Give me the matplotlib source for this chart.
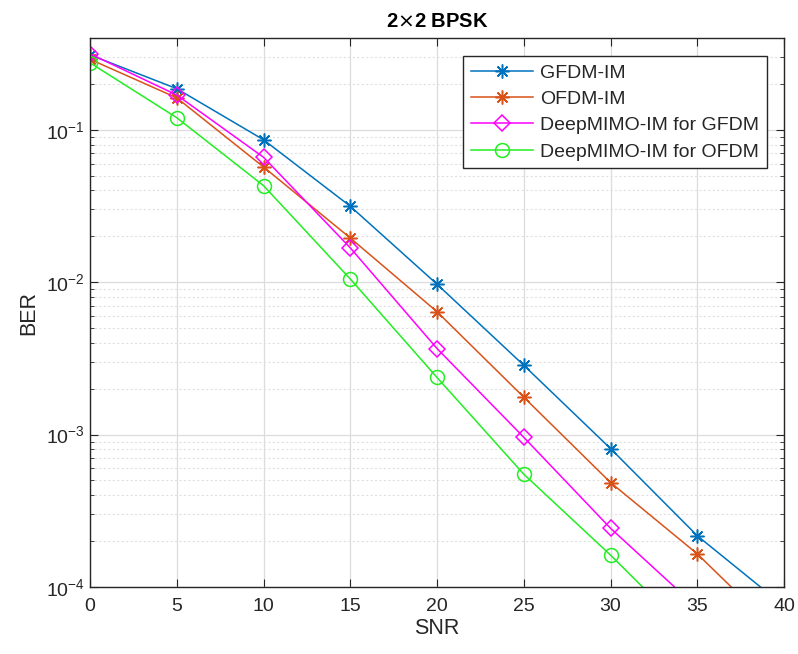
import numpy as np
import matplotlib
matplotlib.use("Agg")
import matplotlib.pyplot as plt
from matplotlib.ticker import LogLocator, NullFormatter, FixedLocator

plt.rcParams['font.family'] = ['Liberation Sans', 'DejaVu Sans']

snr = [0, 5, 10, 15, 20, 25, 30, 35, 40]
gfdm_im = [0.31, 0.186, 0.086, 0.0315, 0.0097, 0.00285, 0.00081, 0.000217, 0.000075]
ofdm_im = [0.29, 0.162, 0.057, 0.0195, 0.0064, 0.00176, 0.000485, 0.000165, 0.000046]
deep_gfdm = [0.315, 0.169, 0.066, 0.0168, 0.00367, 0.00096, 0.000243, 0.000073, np.nan]
deep_ofdm = [0.275, 0.12, 0.043, 0.0105, 0.00237, 0.00055, 0.000162, 0.000044, np.nan]

labels = ['GFDM-IM', 'OFDM-IM', 'DeepMIMO-IM for GFDM', 'DeepMIMO-IM for OFDM']
colors = ['#0072BD', '#D95319', '#FF00FF', '#22EE22']
asterisk = (8, 2, 0)
markers = [asterisk, asterisk, 'D', 'o']
msizes = [10, 10, 8, 10]

fig = plt.figure(figsize=(7.98, 6.54), dpi=100)
ax = fig.add_axes([0.1128, 0.1024, 0.8697, 0.8395])

series = [gfdm_im, ofdm_im, deep_gfdm, deep_ofdm]
for y, lab, c, m, ms in zip(series, labels, colors, markers, msizes):
    ax.semilogy(snr, y, color=c, marker=m, markersize=ms, linewidth=1.1,
                markerfacecolor='none', markeredgecolor=c, markeredgewidth=1.1,
                label=lab)

ax.set_xlim(0, 40)
ax.set_ylim(1e-4, 0.4)
ax.set_xticks(range(0, 41, 5))
ax.yaxis.set_major_locator(FixedLocator([1e-4, 1e-3, 1e-2, 1e-1]))
ax.yaxis.set_minor_locator(LogLocator(base=10, subs=np.arange(2, 10), numticks=20))
ax.yaxis.set_minor_formatter(NullFormatter())

axc = '#262626'
for s in ax.spines.values():
    s.set_color(axc)
    s.set_linewidth(1.0)
ax.tick_params(which='both', direction='in', top=True, right=True, colors=axc,
               labelsize=14, labelcolor=axc)
ax.tick_params(which='major', length=6)
ax.tick_params(which='minor', length=3)
ax.tick_params(axis='x', pad=8)

ax.grid(True, which='major', color='#dcdcdc', linestyle='-', linewidth=0.9)
ax.grid(True, which='minor', axis='y', color='#e0e0e0', linestyle=(0, (2, 2)), linewidth=0.8)
ax.set_axisbelow(True)

ax.set_xlabel('SNR', fontsize=15.5, color=axc, labelpad=2)
ax.set_ylabel('BER', fontsize=15.5, color=axc, labelpad=5)
ax.set_title('2$\\times$2 BPSK', fontsize=14.5, fontweight='bold', color='black', pad=8)

leg = ax.legend(loc='upper right', bbox_to_anchor=(0.9755, 0.967), fontsize=14,
                frameon=True, fancybox=False, edgecolor=axc, framealpha=1,
                handlelength=3.2, handletextpad=0.35, labelspacing=0.45,
                borderpad=0.4, borderaxespad=0)
leg.get_frame().set_linewidth(1.0)
for t in leg.get_texts():
    t.set_color(axc)

fig.savefig('out.png', dpi=100)
